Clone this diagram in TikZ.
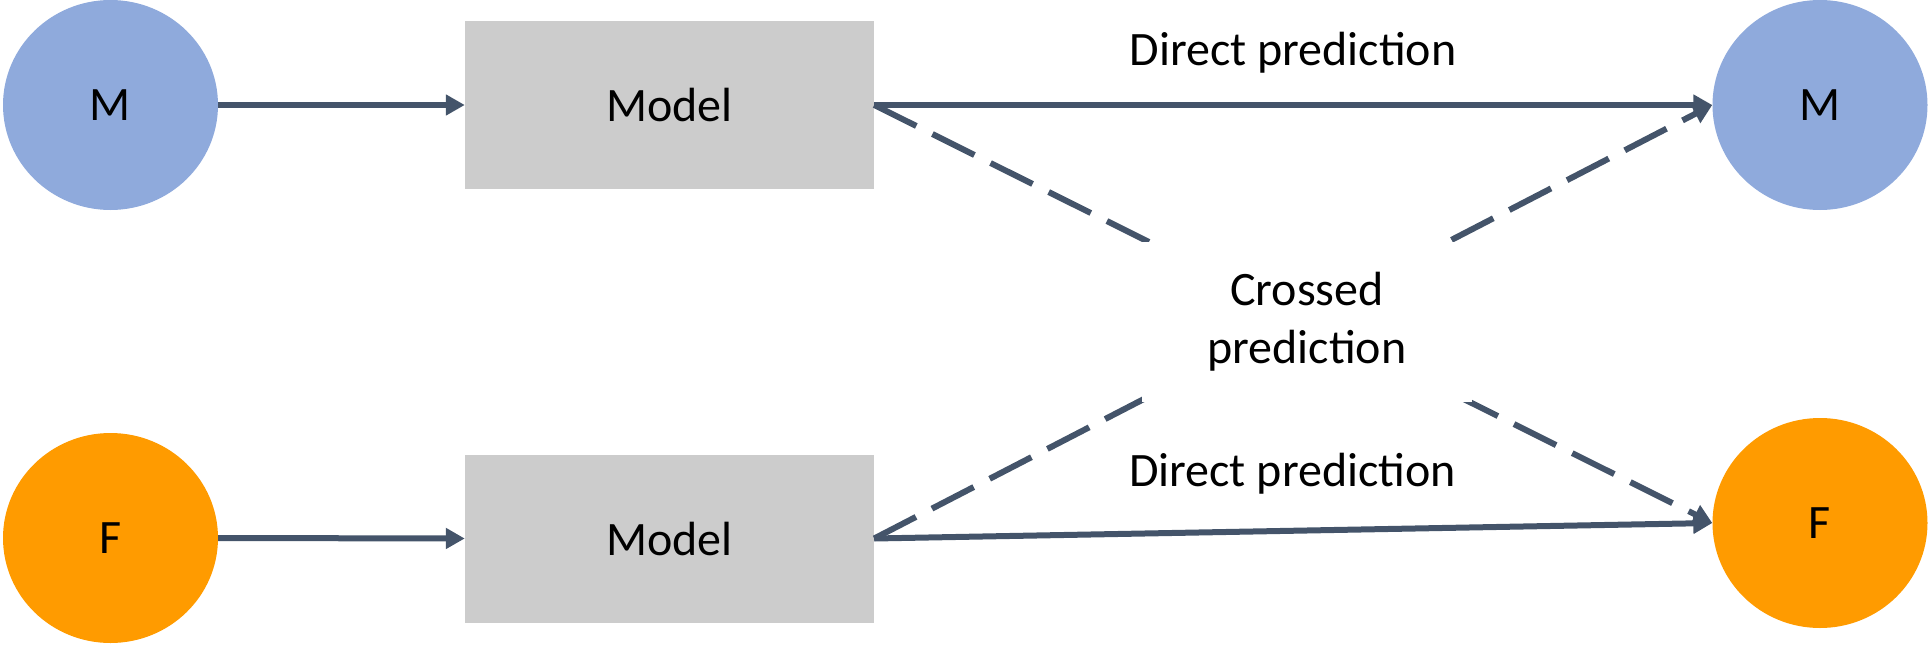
\documentclass[tikz,border=0pt]{standalone}
\usepackage{fontspec}
\setmainfont{Carlito}
\usetikzlibrary{arrows.meta,shapes.geometric}
\definecolor{mblue}{HTML}{8FAADC}
\definecolor{forange}{HTML}{FF9B00}
\definecolor{boxgray}{HTML}{CCCCCC}
\definecolor{linkcol}{HTML}{44546A}
\begin{document}
\begin{tikzpicture}[x=1pt,y=-1pt,
  every node/.style={font=\fontsize{48}{58}\selectfont},
  blob/.style={ellipse,draw=none,minimum width=215pt,minimum height=210pt,inner sep=0pt},
  modelbox/.style={rectangle,fill=boxgray,draw=none,minimum width=409pt,minimum height=168pt,inner sep=0pt},
  conn/.style={draw=linkcol,line width=6pt,-{Triangle[length=19pt,width=20pt]}},
  crossconn/.style={conn,dash pattern=on 47pt off 18pt},
  lbl/.style={anchor=base,inner sep=0pt}]
\useasboundingbox (0,0) rectangle (1928,645);

% inputs, models and outputs
\node[blob,fill=mblue]   (mL) at (110.5,105) {M};
\node[blob,fill=forange] (fL) at (110.5,538) {F};
\node[modelbox] (b1) at (669.5,105) {Model};
\node[modelbox] (b2) at (669.5,538.5) {Model};
\node[blob,fill=mblue]   (mR) at (1820,105) {M};
\node[blob,fill=forange] (fR) at (1820,523) {F};

% inputs into the models
\draw[conn] (mL.east) -- (b1.west);
\draw[conn] (fL.east) -- (b2.west);

% crossed predictions
\draw[crossconn] (b1.east) -- (fR.west);
\draw[crossconn] (b2.east) -- (mR.west);

% direct predictions
\draw[conn] (b1.east) -- (mR.west);
\draw[conn] (b2.east) -- (fR.west);

\node[lbl] (d1) at (1293,65) {Direct prediction};
\node[lbl] (d2) at (1292.5,486) {Direct prediction};
\node[fill=white,minimum width=330pt,minimum height=160pt,align=center,inner sep=0pt] (cp) at (1307,322) {Crossed\\prediction};
\end{tikzpicture}
\end{document}
